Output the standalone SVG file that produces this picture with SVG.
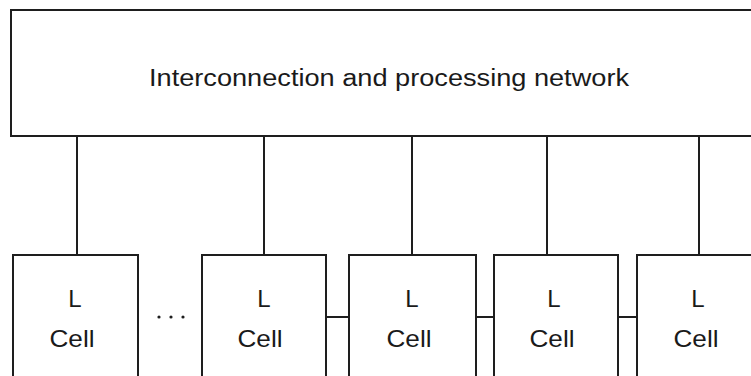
<svg xmlns="http://www.w3.org/2000/svg" width="751" height="376" viewBox="0 0 751 376">
<style>
.box{fill:#fff;stroke:#1e1e1e;stroke-width:2}
.ln{stroke:#1e1e1e;stroke-width:2;fill:none}
text{font-family:"Liberation Sans",Arial,sans-serif;fill:#1a1a1a;text-anchor:middle}
.t{font-size:23px}
.c{font-size:24px}
</style>
<rect width="751" height="376" fill="#fff"/>
<g id="connectors">
<line class="ln" x1="77" y1="136" x2="77" y2="255"/>
<line class="ln" x1="264" y1="136" x2="264" y2="255"/>
<line class="ln" x1="412" y1="136" x2="412" y2="255"/>
<line class="ln" x1="547" y1="136" x2="547" y2="255"/>
<line class="ln" x1="699" y1="136" x2="699" y2="255"/>
<line class="ln" x1="326" y1="317" x2="349" y2="317"/>
<line class="ln" x1="476" y1="317" x2="494" y2="317"/>
<line class="ln" x1="618" y1="317" x2="637" y2="317"/>
</g>
<g id="network">
<rect class="box" x="11" y="10" width="760" height="126"/>
<text class="t" x="389" y="86" textLength="480" lengthAdjust="spacingAndGlyphs">Interconnection and processing network</text>
</g>
<g id="cell1">
<rect class="box" x="13" y="255" width="125" height="140"/>
<text class="c" x="75" y="307">L</text>
<text class="c" x="72" y="347" textLength="45" lengthAdjust="spacingAndGlyphs">Cell</text>
</g>
<g id="dots">
<circle cx="159" cy="317" r="1.6" fill="#1e1e1e"/>
<circle cx="171" cy="317" r="1.6" fill="#1e1e1e"/>
<circle cx="183" cy="317" r="1.6" fill="#1e1e1e"/>
</g>
<g id="cell2">
<rect class="box" x="202" y="255" width="124" height="140"/>
<text class="c" x="264" y="307">L</text>
<text class="c" x="260" y="347" textLength="45" lengthAdjust="spacingAndGlyphs">Cell</text>
</g>
<g id="cell3">
<rect class="box" x="349" y="255" width="127" height="140"/>
<text class="c" x="412" y="307">L</text>
<text class="c" x="409" y="347" textLength="45" lengthAdjust="spacingAndGlyphs">Cell</text>
</g>
<g id="cell4">
<rect class="box" x="494" y="255" width="124" height="140"/>
<text class="c" x="554" y="307">L</text>
<text class="c" x="552" y="347" textLength="45" lengthAdjust="spacingAndGlyphs">Cell</text>
</g>
<g id="cell5">
<rect class="box" x="637" y="255" width="125" height="140"/>
<text class="c" x="698" y="307">L</text>
<text class="c" x="696" y="347" textLength="45" lengthAdjust="spacingAndGlyphs">Cell</text>
</g>
</svg>
